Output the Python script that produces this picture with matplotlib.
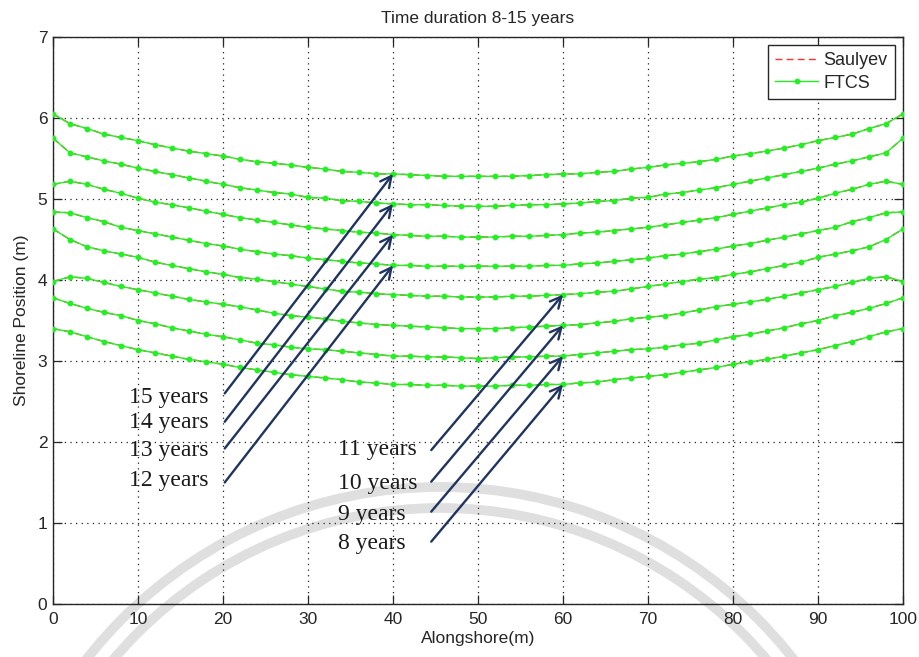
import matplotlib
matplotlib.use("Agg")
import matplotlib.pyplot as plt
from matplotlib.patches import Arc
import numpy as np

# Alongshore positions (m)
x = list(range(0, 101, 2))

# FTCS shoreline positions (m), one profile per year
ftcs_15 = [6.05, 5.93, 5.87, 5.80, 5.76, 5.72, 5.67, 5.63, 5.59, 5.56, 5.53, 5.49, 5.46, 5.44, 5.42, 5.39, 5.37,
           5.34, 5.33, 5.31, 5.31, 5.30, 5.29, 5.28, 5.28, 5.28, 5.28, 5.28, 5.29, 5.30, 5.31, 5.31, 5.33, 5.34,
           5.37, 5.39, 5.42, 5.44, 5.46, 5.49, 5.53, 5.56, 5.59, 5.63, 5.67, 5.72, 5.76, 5.80, 5.87, 5.93, 6.05]
ftcs_14 = [5.75, 5.57, 5.52, 5.47, 5.43, 5.38, 5.34, 5.30, 5.26, 5.22, 5.18, 5.14, 5.11, 5.08, 5.06, 5.02, 5.01,
           4.98, 4.97, 4.95, 4.94, 4.93, 4.93, 4.92, 4.91, 4.91, 4.91, 4.92, 4.93, 4.93, 4.94, 4.95, 4.97, 4.98,
           5.01, 5.02, 5.06, 5.08, 5.11, 5.14, 5.18, 5.22, 5.26, 5.30, 5.34, 5.38, 5.43, 5.47, 5.52, 5.57, 5.75]
ftcs_13 = [5.18, 5.22, 5.18, 5.12, 5.07, 5.01, 4.96, 4.93, 4.89, 4.85, 4.81, 4.77, 4.74, 4.71, 4.68, 4.65, 4.63,
           4.61, 4.59, 4.58, 4.56, 4.55, 4.54, 4.54, 4.53, 4.53, 4.53, 4.54, 4.54, 4.55, 4.56, 4.58, 4.59, 4.61,
           4.63, 4.65, 4.68, 4.71, 4.74, 4.77, 4.81, 4.85, 4.89, 4.93, 4.96, 5.01, 5.07, 5.12, 5.18, 5.22, 5.18]
ftcs_12 = [4.84, 4.83, 4.77, 4.72, 4.65, 4.61, 4.57, 4.53, 4.49, 4.45, 4.42, 4.38, 4.35, 4.32, 4.30, 4.27, 4.25,
           4.23, 4.21, 4.20, 4.18, 4.18, 4.17, 4.17, 4.17, 4.17, 4.17, 4.17, 4.17, 4.18, 4.18, 4.20, 4.21, 4.23,
           4.25, 4.27, 4.30, 4.32, 4.35, 4.38, 4.42, 4.45, 4.49, 4.53, 4.57, 4.61, 4.65, 4.72, 4.77, 4.83, 4.84]
ftcs_11 = [4.63, 4.50, 4.41, 4.36, 4.32, 4.28, 4.22, 4.18, 4.14, 4.10, 4.07, 4.03, 4.01, 3.98, 3.95, 3.92, 3.89,
           3.86, 3.85, 3.83, 3.82, 3.81, 3.80, 3.80, 3.79, 3.79, 3.79, 3.80, 3.80, 3.81, 3.82, 3.83, 3.85, 3.86,
           3.89, 3.92, 3.95, 3.98, 4.01, 4.03, 4.07, 4.10, 4.14, 4.18, 4.22, 4.28, 4.32, 4.36, 4.41, 4.50, 4.63]
ftcs_10 = [3.98, 4.04, 4.02, 3.97, 3.92, 3.88, 3.84, 3.80, 3.76, 3.73, 3.70, 3.67, 3.63, 3.59, 3.56, 3.54, 3.52,
           3.49, 3.47, 3.45, 3.44, 3.43, 3.42, 3.41, 3.40, 3.40, 3.40, 3.41, 3.42, 3.43, 3.44, 3.45, 3.47, 3.49,
           3.52, 3.54, 3.56, 3.59, 3.63, 3.67, 3.70, 3.73, 3.76, 3.80, 3.84, 3.88, 3.92, 3.97, 4.02, 4.04, 3.98]
ftcs_9 = [3.78, 3.71, 3.65, 3.60, 3.56, 3.50, 3.46, 3.41, 3.37, 3.33, 3.30, 3.26, 3.22, 3.20, 3.17, 3.15, 3.14,
          3.12, 3.10, 3.08, 3.06, 3.06, 3.05, 3.05, 3.04, 3.03, 3.04, 3.05, 3.05, 3.06, 3.06, 3.08, 3.10, 3.12,
          3.14, 3.15, 3.17, 3.20, 3.22, 3.26, 3.30, 3.33, 3.37, 3.41, 3.46, 3.50, 3.56, 3.60, 3.65, 3.71, 3.78]
ftcs_8 = [3.40, 3.36, 3.30, 3.24, 3.19, 3.14, 3.10, 3.06, 3.02, 2.99, 2.96, 2.92, 2.89, 2.86, 2.83, 2.81, 2.79,
          2.77, 2.74, 2.73, 2.71, 2.71, 2.70, 2.70, 2.69, 2.69, 2.69, 2.70, 2.70, 2.71, 2.71, 2.73, 2.74, 2.77,
          2.79, 2.81, 2.83, 2.86, 2.89, 2.92, 2.96, 2.99, 3.02, 3.06, 3.10, 3.14, 3.19, 3.24, 3.30, 3.36, 3.40]

years = [15, 14, 13, 12, 11, 10, 9, 8]
ftcs = [ftcs_15, ftcs_14, ftcs_13, ftcs_12, ftcs_11, ftcs_10, ftcs_9, ftcs_8]
# The Saulyev scheme gives the same profiles to plotting accuracy
saulyev = ftcs

# Arrow annotations: label, text anchor, arrow tail, arrow head x
label_text = ["15 years", "14 years", "13 years", "12 years", "11 years", "10 years", "9 years", "8 years"]
label_x = [9.0, 9.0, 9.0, 9.0, 33.5, 33.5, 33.5, 33.5]
label_y = [2.55, 2.24, 1.89, 1.52, 1.91, 1.49, 1.11, 0.75]
tail_x = [20.2, 20.2, 20.2, 20.2, 44.5, 44.5, 44.5, 44.5]
tail_y = [2.60, 2.25, 1.92, 1.50, 1.90, 1.51, 1.14, 0.77]
head_x = [40, 40, 40, 40, 60, 60, 60, 60]

x_ticks = [0, 10, 20, 30, 40, 50, 60, 70, 80, 90, 100]
y_ticks = [0, 1, 2, 3, 4, 5, 6, 7]

W, H = 920, 657
fig = plt.figure(figsize=(W / 100, H / 100), dpi=100)
fig.patch.set_facecolor("white")

# faint decorative seal behind the plot
bg = fig.add_axes([0, 0, 1, 1], zorder=0)
bg.set_xlim(0, W)
bg.set_ylim(H, 0)
bg.axis("off")
for r in (449, 428):
    bg.add_patch(Arc((440, 936), 2 * r, 2 * r, theta1=180, theta2=360,
                     color="#dfdfdf", lw=7))

ax = fig.add_axes([53 / W, 1 - 604 / H, 850 / W, 567 / H], zorder=1)
ax.patch.set_alpha(0)

navy = "#1f3560"
green = "#22f022"

for i, yv in enumerate(saulyev):
    ax.plot(x, yv, color="#ff3030", lw=1.0, ls=(0, (5, 3)), zorder=2,
            label="Saulyev" if i == 0 else None)
for i, yv in enumerate(ftcs):
    ax.plot(x, yv, color=green, lw=1.0, marker="o", ms=3.2, mec=green, mfc=green, zorder=3,
            label="FTCS" if i == 0 else None)

for i in range(len(years)):
    hy = ftcs[i][x.index(head_x[i])]
    ax.annotate("", xy=(head_x[i], hy), xytext=(tail_x[i], tail_y[i]),
                arrowprops=dict(arrowstyle="->", color=navy, lw=1.7, mutation_scale=20,
                                shrinkA=0, shrinkB=0), zorder=4)
    ax.text(label_x[i], label_y[i], label_text[i], family="Liberation Serif", fontsize=17,
            color="#1a1a1a", ha="left", va="center", zorder=4)

ax.set_xlim(0, 100)
ax.set_ylim(0, 7)
ax.set_xticks(x_ticks)
ax.set_yticks(y_ticks)
ax.grid(True, color="#222222", ls=(0, (1, 3.5)), lw=0.9)
ax.tick_params(direction="in", length=6.5, width=0.9, top=True, right=True,
               labelsize=12.5, labelcolor="#262626", colors="#262626")
ax.tick_params(axis="x", pad=6)
ax.tick_params(axis="y", pad=4)
for t in ax.get_xticklabels() + ax.get_yticklabels():
    t.set_family("Liberation Sans")
for s in ax.spines.values():
    s.set_color("#262626")
    s.set_linewidth(1.0)

ax.set_title("Time duration 8-15 years", family="Liberation Sans", fontsize=12.5,
             color="#262626", pad=10)
ax.set_xlabel("Alongshore(m)", family="Liberation Sans", fontsize=12.5, color="#262626", labelpad=3)
ax.set_ylabel("Shoreline Position (m)", family="Liberation Sans", fontsize=12.5, color="#262626",
              labelpad=6)

leg = ax.legend(loc="upper right", bbox_to_anchor=(0.9906, 0.9859), borderaxespad=0,
                fancybox=False, framealpha=1, edgecolor="#262626",
                prop={"family": "Liberation Sans", "size": 13},
                handlelength=2.4, handletextpad=0.3, labelspacing=0.3, borderpad=0.4)
leg.get_frame().set_linewidth(1.0)
for t in leg.get_texts():
    t.set_color("#262626")

fig.savefig("out.png", dpi=100)
